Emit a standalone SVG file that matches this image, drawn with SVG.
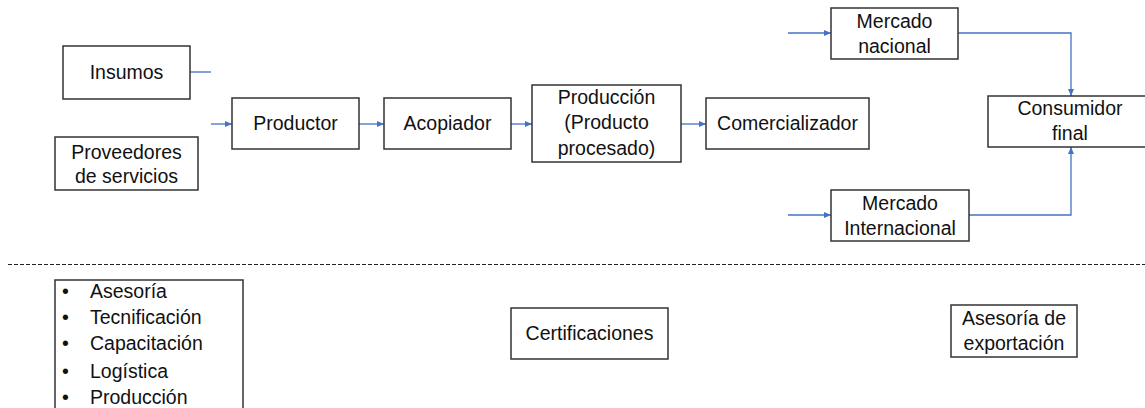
<svg xmlns="http://www.w3.org/2000/svg" width="1145" height="408" viewBox="0 0 1145 408">
<defs>
<marker id="arr" markerWidth="8" markerHeight="8" refX="7" refY="4" orient="auto" markerUnits="userSpaceOnUse">
<path d="M0,1 L7,4 L0,7 Z" fill="#4472C4"/>
</marker>
<style>
rect.box{fill:#fff;stroke:#333;stroke-width:1.5}
text{font-family:"Liberation Sans",Arial,sans-serif;font-size:19.5px;fill:#111;text-anchor:middle}
.c{fill:none;stroke:#4472C4;stroke-width:1.3}
.l{text-anchor:start}
</style>
</defs>
<rect width="1145" height="408" fill="#fff"/>
<g id="connectors">
<line class="c" x1="190" y1="72" x2="211" y2="72"/>
<line class="c" x1="211" y1="124" x2="232" y2="124" marker-end="url(#arr)"/>
<line class="c" x1="359" y1="124" x2="384" y2="124" marker-end="url(#arr)"/>
<line class="c" x1="511" y1="124" x2="532" y2="124" marker-end="url(#arr)"/>
<line class="c" x1="681" y1="124" x2="706" y2="124" marker-end="url(#arr)"/>
<line class="c" x1="788" y1="33" x2="831" y2="33" marker-end="url(#arr)"/>
<line class="c" x1="788" y1="215" x2="831" y2="215" marker-end="url(#arr)"/>
<polyline class="c" points="958,33 1071,33 1071,96" marker-end="url(#arr)"/>
<polyline class="c" points="969,215 1071,215 1071,147" marker-end="url(#arr)"/>
<line x1="8" y1="264.5" x2="1145" y2="264.5" stroke="#222" stroke-width="1" stroke-dasharray="4,2"/>
</g>
<g id="insumos"><rect class="box" x="63" y="46" width="127" height="53"/><text x="126.5" y="79">Insumos</text></g>
<g id="proveedores"><rect class="box" x="55" y="137" width="143" height="53"/><text x="126.5" y="159">Proveedores</text><text x="126.5" y="183">de servicios</text></g>
<g id="productor"><rect class="box" x="232" y="98" width="127" height="51"/><text x="295.5" y="130">Productor</text></g>
<g id="acopiador"><rect class="box" x="384" y="98" width="127" height="51"/><text x="447.5" y="130">Acopiador</text></g>
<g id="produccion"><rect class="box" x="532" y="85" width="149" height="77"/><text x="606.5" y="104">Producción</text><text x="606.5" y="129">(Producto</text><text x="606.5" y="155">procesado)</text></g>
<g id="comercializador"><rect class="box" x="706" y="98" width="163" height="51"/><text x="787.5" y="130">Comercializador</text></g>
<g id="mercado-nacional"><rect class="box" x="831" y="8" width="127" height="51"/><text x="894.5" y="28">Mercado</text><text x="894.5" y="53">nacional</text></g>
<g id="mercado-internacional"><rect class="box" x="831" y="190" width="138" height="51"/><text x="900" y="210">Mercado</text><text x="900" y="235">Internacional</text></g>
<g id="consumidor"><rect class="box" x="988" y="96" width="160" height="51"/><text x="1070" y="115">Consumidor</text><text x="1070" y="140">final</text></g>
<g id="servicios"><rect class="box" x="55" y="280" width="188" height="135"/>
<text class="l" x="62" y="298">•</text><text class="l" x="90" y="298">Asesoría</text>
<text class="l" x="62" y="324">•</text><text class="l" x="90" y="324">Tecnificación</text>
<text class="l" x="62" y="350">•</text><text class="l" x="90" y="350">Capacitación</text>
<text class="l" x="62" y="378">•</text><text class="l" x="90" y="378">Logística</text>
<text class="l" x="62" y="404">•</text><text class="l" x="90" y="404">Producción</text>
</g>
<g id="certificaciones"><rect class="box" x="511" y="308" width="157" height="51"/><text x="589.5" y="340">Certificaciones</text></g>
<g id="asesoria-exportacion"><rect class="box" x="951" y="305" width="126" height="52"/><text x="1014" y="325">Asesoría de</text><text x="1014" y="350">exportación</text></g>
</svg>
